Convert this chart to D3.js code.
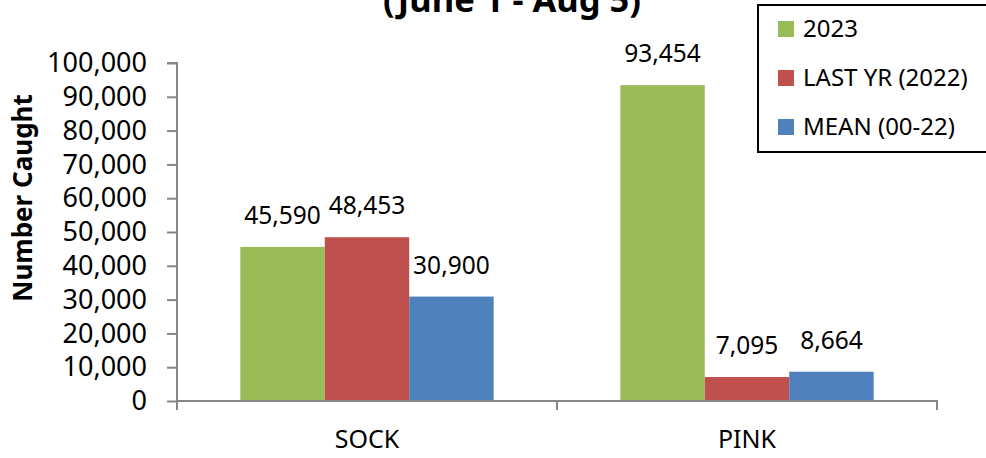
<!DOCTYPE html>
<html>
<head>
<meta charset="utf-8">
<script src="https://cdn.jsdelivr.net/npm/d3@7"></script>
<style>
  html, body { margin: 0; padding: 0; background: #fff; }
  svg { display: block; font-family: "Noto Sans", "Liberation Sans", sans-serif; }
</style>
</head>
<body>
<svg id="chart" width="986" height="458"></svg>
<script>
const categories = ["SOCK", "PINK"];
const seriesNames = ["2023", "LAST YR (2022)", "MEAN (00-22)"];
const seriesColors = ["#9BBB59", "#C0504D", "#4F81BD"];
const values2023 = [45590, 93454];
const valuesLastYr = [48453, 7095];
const valuesMean = [30900, 8664];
const yTickValues = [0, 10000, 20000, 30000, 40000, 50000, 60000, 70000, 80000, 90000, 100000];
const titleText = "(June 1 - Aug 5)";
const yAxisTitle = "Number Caught";

const seriesValues = [values2023, valuesLastYr, valuesMean];
const fmt = d3.format(",");

const svg = d3.select("#chart");
const plot = { left: 177, right: 937, top: 63, bottom: 401 };

const y = d3.scaleLinear().domain([0, 100000]).range([plot.bottom, plot.top]);
const x0 = d3.scaleBand().domain(categories).range([plot.left, plot.right]).paddingInner(0).paddingOuter(0);
const x1 = d3.scaleBand().domain(seriesNames).range([0, x0.bandwidth()]).paddingInner(0).paddingOuter(0.75);

const axisColor = "#868686";

// Bars
const groups = svg.append("g").selectAll("g")
  .data(categories)
  .join("g")
  .attr("transform", d => `translate(${x0(d)},0)`);

groups.selectAll("rect")
  .data((c, ci) => seriesNames.map((s, si) => ({ s, si, v: seriesValues[si][ci] })))
  .join("rect")
  .attr("x", d => x1(d.s))
  .attr("y", d => y(d.v))
  .attr("width", x1.bandwidth())
  .attr("height", d => y(0) - y(d.v))
  .attr("fill", d => seriesColors[d.si]);

// Data labels
groups.selectAll("text.lbl")
  .data((c, ci) => seriesNames.map((s, si) => ({ s, si, v: seriesValues[si][ci] })))
  .join("text")
  .attr("class", "lbl")
  .attr("x", d => x1(d.s) + x1.bandwidth() / 2)
  .attr("y", d => y(d.v) - 23)
  .attr("text-anchor", "middle")
  .attr("font-size", 24.5)
  .attr("fill", "#000")
  .text(d => fmt(d.v));

// Y axis
const yAxis = d3.axisLeft(y).tickValues(yTickValues).tickFormat(fmt).tickSize(10).tickPadding(20);
const gy = svg.append("g").attr("transform", `translate(${plot.left},0)`).call(yAxis);
gy.select(".domain").attr("stroke", axisColor).attr("stroke-width", 2).attr("d", `M-10,${plot.top}H0V${plot.bottom}`);
gy.selectAll(".tick line").attr("stroke", axisColor).attr("stroke-width", 2);
gy.selectAll(".tick text").attr("font-size", 27).attr("fill", "#000").attr("font-family", "Noto Sans");

// X axis
const xAxis = d3.axisBottom(x0).tickSize(0).tickPadding(0);
const gx = svg.append("g").attr("transform", `translate(0,${plot.bottom})`).call(xAxis);
gx.select(".domain").attr("stroke", axisColor).attr("stroke-width", 2).attr("d", `M${plot.left},0H${plot.right}`);
gx.selectAll(".tick text").attr("font-size", 25).attr("fill", "#000").attr("font-family", "Noto Sans")
  .attr("dy", null).attr("y", 47);
// category boundary ticks
const bounds = [plot.left, ...categories.map(c => x0(c) + x0.bandwidth())];
gx.selectAll("line.bnd").data(bounds).join("line")
  .attr("class", "bnd")
  .attr("x1", d => d).attr("x2", d => d)
  .attr("y1", -1).attr("y2", 9)
  .attr("stroke", axisColor).attr("stroke-width", 2);

// Y axis title
svg.append("text")
  .attr("transform", "translate(32,198) rotate(-90)")
  .attr("text-anchor", "middle")
  .attr("font-size", 26)
  .attr("font-weight", "bold")
  .text(yAxisTitle);

// Title (partially cut off at top, as in the reference)
svg.append("text")
  .attr("x", 512).attr("y", 12)
  .attr("text-anchor", "middle")
  .attr("font-size", 34.5)
  .attr("font-weight", "bold")
  .text(titleText);

// Legend
const legend = svg.append("g");
legend.append("rect")
  .attr("x", 758).attr("y", 5).attr("width", 240).attr("height", 147)
  .attr("fill", "#fff").attr("stroke", "#000").attr("stroke-width", 2);
const items = legend.selectAll("g.item").data(seriesNames).join("g")
  .attr("class", "item")
  .attr("transform", (d, i) => `translate(778,${21 + i * 49})`);
items.append("rect").attr("width", 16).attr("height", 16).attr("fill", (d, i) => seriesColors[i]);
items.append("text").attr("x", 25).attr("y", 16).attr("font-size", 24).attr("fill", "#000").text(d => d);
</script>
</body>
</html>
